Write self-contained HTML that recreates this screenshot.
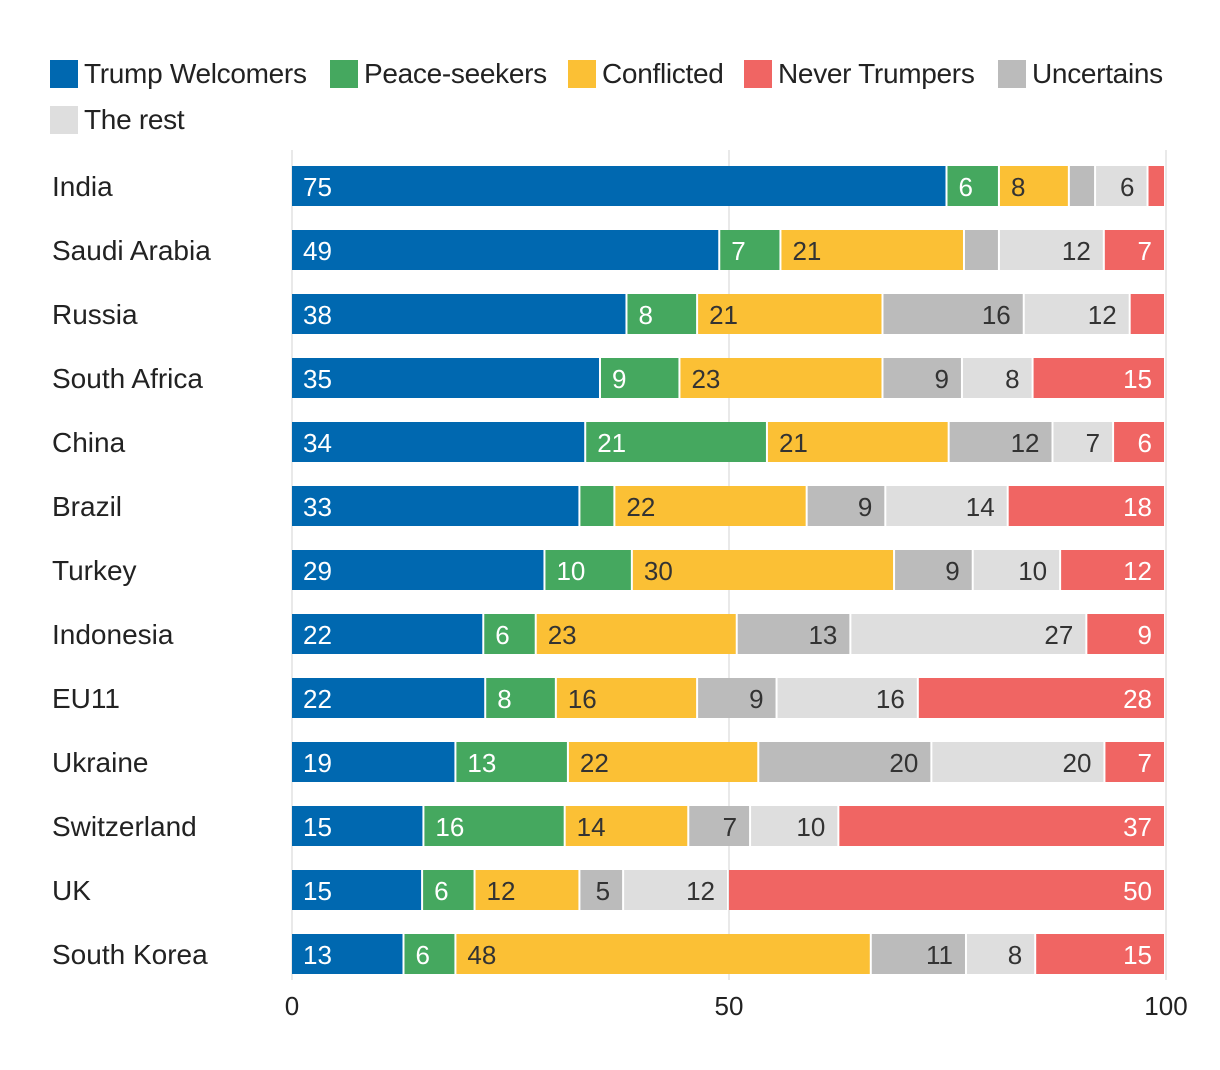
<!DOCTYPE html>
<html><head><meta charset="utf-8"><style>
body{margin:0;background:#fff;font-family:"Liberation Sans","DejaVu Sans",sans-serif;}
#wrap{position:relative;width:1220px;height:1070px;overflow:hidden;}
.leg{position:absolute;font-size:28px;color:#222;display:flex;align-items:center;white-space:nowrap;letter-spacing:-0.3px;}
.sw{width:28px;height:28px;margin-right:6px;}
</style></head><body>
<div id="wrap">
<div id="legend"></div>
<svg id="svg" width="1220" height="1070" style="position:absolute;left:0;top:0"></svg>
</div>
<script>
const categories=["India","Saudi Arabia","Russia","South Africa","China","Brazil","Turkey","Indonesia","EU11","Ukraine","Switzerland","UK","South Korea"];
const seriesNames=["Trump Welcomers","Peace-seekers","Conflicted","Never Trumpers","Uncertains","The rest"];
const welcomers=[75,49,38,35,34,33,29,22,22,19,15,15,13];
const peace=[6,7,8,9,21,4,10,6,8,13,16,6,6];
const conflicted=[8,21,21,23,21,22,30,23,16,22,14,12,48];
const uncertains=[3,4,16,9,12,9,9,13,9,20,7,5,11];
const rest=[6,12,12,8,7,14,10,27,16,20,10,12,8];
const never=[2,7,4,15,6,18,12,9,28,7,37,50,15];
const ticks=[0,50,100];
const colors={w:"#0068b0",p:"#45a85f",c:"#fbc035",n:"#f06563",u:"#bbbbbb",r:"#dedede"};
const X=v=>292+v*8.74;
const Y=i=>166+i*64;
const ns="http://www.w3.org/2000/svg";
const svg=document.getElementById('svg');
function mk(t,a){const e=document.createElementNS(ns,t);for(const k in a)e.setAttribute(k,a[k]);svg.appendChild(e);return e;}
ticks.forEach(t=>{
 const l=mk('line',{x1:X(t),x2:X(t),y1:150,y2:980,stroke:'#e2e2e2','stroke-width':1.5});
 
 
 const tx=mk('text',{x:X(t),y:1015,'text-anchor':'middle','font-size':26,fill:'#222'});
 tx.textContent=t;
 
 
});
const segs=[[welcomers,'w','#fff','l'],[peace,'p','#fff','l'],[conflicted,'c','#333','l'],[uncertains,'u','#333','r'],[rest,'r','#333','r'],[never,'n','#fff','r']];
categories.forEach((c,i)=>{
 const lb=mk('text',{x:52,y:Y(i)+30,'font-size':28,fill:'#222'});
 lb.textContent=c;
 
 
 const total=segs.reduce((s,a)=>s+a[0][i],0);
 const k100=100/total;
 let cum=0;
 segs.forEach(([arr,k,tc,al])=>{
  const v=arr[i];const x0=X(cum*k100),x1=X((cum+v)*k100);cum+=v;
  const r=mk('rect',{x:x0,y:Y(i),width:Math.max(0,x1-x0-2),height:40,fill:colors[k]});
  
  
  if(v>=5){
   const t=mk('text',{x:al=='l'?x0+11:x1-14,y:Y(i)+30,'text-anchor':al=='l'?'start':'end','font-size':26,fill:tc});
   t.textContent=v;
   
   
  }
 });
});
const leg=document.getElementById('legend');
const legPos=[[50,58],[330,58],[568,58],[744,58],[998,58],[50,104]];
const legCols=[colors.w,colors.p,colors.c,colors.n,colors.u,colors.r];
seriesNames.forEach((s,i)=>{
 const d=document.createElement('div');d.className='leg';
 d.style.left=legPos[i][0]+'px';d.style.top=legPos[i][1]+'px';
 d.innerHTML='<div class="sw" style="background:'+legCols[i]+'"></div>'+s;
 
 
 leg.appendChild(d);
});
</script>
</body></html>
